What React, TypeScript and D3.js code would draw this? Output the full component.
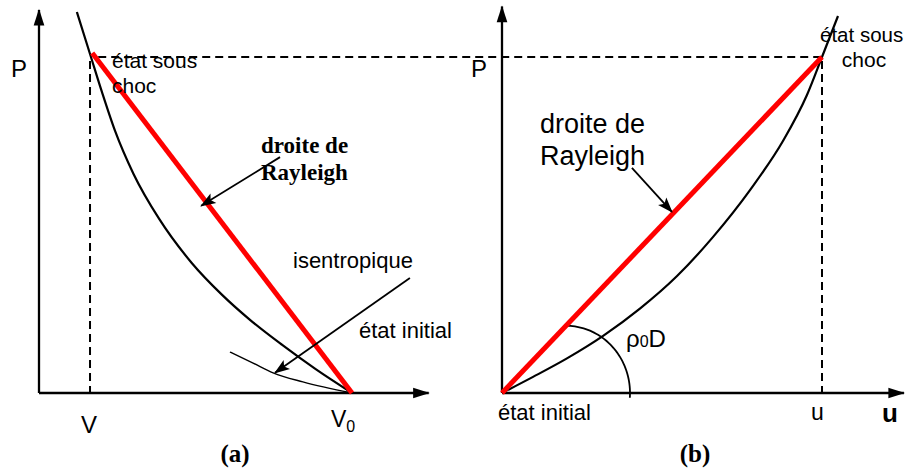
import React from "react";
import * as d3 from "d3";

// (a) plan P–V : V normalisé par V0, P normalisé par la pression sous choc
const hugoniotPV: [number, number][] = [
  [0.121, 1.134], [0.164, 1.006], [0.201, 0.896], [0.243, 0.78], [0.302, 0.652],
  [0.384, 0.518], [0.488, 0.387], [0.585, 0.292], [0.675, 0.217], [0.777, 0.143],
  [0.884, 0.071], [1.0, 0.0],
];
const isentropePV: [number, number][] = [
  [0.61, 0.122], [0.684, 0.089], [0.748, 0.06], [0.843, 0.033], [1.0, 0.0],
];
const rayleighPV: [number, number][] = [[0.17, 1.012], [1.0, 0.0]];
const shockV = 0.163;

// (b) plan P–u : u normalisé par u sous choc
const hugoniotPU: [number, number][] = [
  [0, 0], [0.097, 0.048], [0.203, 0.103], [0.316, 0.17], [0.431, 0.251],
  [0.547, 0.348], [0.659, 0.464], [0.775, 0.604], [0.878, 0.75], [0.953, 0.887],
  [1.0, 1.0], [1.05, 1.122],
];
const rayleighPU: [number, number][] = [[0, 0], [1, 1]];
const angleArc = { cx: 0.2, r: 0.2, from: 90, to: -4 };

const sans = "'Liberation Sans', Arial, sans-serif";
const serif = "'Liberation Serif', 'Times New Roman', serif";

export default function App() {
  const W = 905, H = 471;

  const xA = d3.scaleLinear().domain([0, 1]).range([39, 352]);
  const yA = d3.scaleLinear().domain([0, 1]).range([393, 57]);
  const xB = d3.scaleLinear().domain([0, 1]).range([502, 822]);
  const yB = yA;

  const lineA = d3.line<[number, number]>().x(d => xA(d[0])).y(d => yA(d[1])).curve(d3.curveMonotoneX);
  const lineB = d3.line<[number, number]>().x(d => xB(d[0])).y(d => yB(d[1])).curve(d3.curveMonotoneX);

  const arcPts: [number, number][] = d3.range(angleArc.from, angleArc.to - 0.01, -2).map(a => {
    const t = (a * Math.PI) / 180;
    return [angleArc.cx + angleArc.r * Math.cos(t), angleArc.r * Math.sin(t)];
  });
  const arcPath = d3.line<[number, number]>().x(d => xB(d[0])).y(d => yB(d[1]))(arcPts);

  const seg = (x1: number, y1: number, x2: number, y2: number, props: any) => (
    <line x1={x1} y1={y1} x2={x2} y2={y2} {...props} />
  );

  return (
    <svg width={W} height={H} style={{ position: "absolute", left: 0, top: 0, background: "#fff" }}>
      <defs>
        <marker id="axArrow" markerUnits="userSpaceOnUse" markerWidth="20" markerHeight="20"
          viewBox="-16 -8 18 16" refX="0" refY="0" orient="auto">
          <path d="M1,0 L-14,-4.8 L-14,4.8 Z" fill="#000" />
        </marker>
        <marker id="smArrow" markerUnits="userSpaceOnUse" markerWidth="20" markerHeight="20"
          viewBox="-16 -8 18 16" refX="0" refY="0" orient="auto">
          <path d="M1,0 L-13,-5 L-10,0 L-13,5 Z" fill="#000" />
        </marker>
      </defs>

      {/* lignes pointillées */}
      <g stroke="#000" strokeWidth={2} strokeDasharray="8,5" fill="none">
        {seg(xA(0.17) + 6, yA(1), xB(1), yA(1), {})}
        {seg(xA(shockV), yA(1) + 4, xA(shockV), yA(0), {})}
        {seg(xB(1), yB(1) + 4, xB(1), yB(0), {})}
      </g>

      {/* axes */}
      <g stroke="#000" strokeWidth={2.3}>
        {seg(xA(0), yA(0), xA(0), yA(1.14), { markerEnd: "url(#axArrow)" })}
        {seg(xA(0), yA(0), xA(1.245), yA(0), { markerEnd: "url(#axArrow)" })}
        {seg(xB(0), yB(0), xB(0), yB(1.15), { markerEnd: "url(#axArrow)" })}
        {seg(xB(0), yB(0), xB(1.256), yB(0), { markerEnd: "url(#axArrow)" })}
      </g>

      {/* (a) courbes */}
      <path d={lineA(hugoniotPV) ?? ""} fill="none" stroke="#000" strokeWidth={2.2} />
      <path d={lineA(isentropePV) ?? ""} fill="none" stroke="#000" strokeWidth={1.4} />
      <path d={d3.line<[number, number]>().x(d => xA(d[0])).y(d => yA(d[1]))(rayleighPV) ?? ""}
        fill="none" stroke="#ff0000" strokeWidth={5} />

      {/* (b) courbes */}
      <path d={lineB(hugoniotPU) ?? ""} fill="none" stroke="#000" strokeWidth={2.2} />
      <path d={arcPath ?? ""} fill="none" stroke="#000" strokeWidth={1.8} />
      <path d={d3.line<[number, number]>().x(d => xB(d[0])).y(d => yB(d[1]))(rayleighPU) ?? ""}
        fill="none" stroke="#ff0000" strokeWidth={5} />

      {/* flèches des annotations */}
      <g stroke="#000" strokeWidth={1.8}>
        {seg(xA(0.77), yA(0.702), xA(0.518), yA(0.557), { markerEnd: "url(#smArrow)" })}
        {seg(xA(1.185), yA(0.342), xA(0.754), yA(0.06), { markerEnd: "url(#smArrow)" })}
        {seg(xB(0.406), yB(0.67), xB(0.531), yB(0.539), { markerEnd: "url(#smArrow)" })}
      </g>

      {/* textes (a) */}
      <g fontFamily={sans} fill="#000">
        <text x={11} y={77} fontSize={24}>P</text>
        <text x={112} y={68} fontSize={21}>état sous</text>
        <text x={112} y={93} fontSize={21}>choc</text>
        <text x={293} y={268} fontSize={22}>isentropique</text>
        <text x={359} y={338} fontSize={22}>état initial</text>
        <text x={89} y={433} fontSize={24} textAnchor="middle">V</text>
        <text x={331} y={427} fontSize={23}>V<tspan fontSize={16} dy={5}>0</tspan></text>
      </g>
      <g fontFamily={serif} fontWeight="bold" fill="#000">
        <text x={261} y={153} fontSize={23}>droite de</text>
        <text x={261} y={180} fontSize={23}>Rayleigh</text>
        <text x={235} y={462} fontSize={25} textAnchor="middle">(a)</text>
        <text x={695} y={462} fontSize={25} textAnchor="middle">(b)</text>
      </g>

      {/* textes (b) */}
      <g fontFamily={sans} fill="#000">
        <text x={471} y={77} fontSize={24}>P</text>
        <text x={820} y={42} fontSize={20.5}>état sous</text>
        <text x={864} y={67} fontSize={21} textAnchor="middle">choc</text>
        <text x={540} y={133} fontSize={27}>droite de</text>
        <text x={540} y={165} fontSize={27}>Rayleigh</text>
        <text x={626} y={347} fontSize={24}>ρ<tspan fontSize={16} dy={0}>0</tspan><tspan fontSize={24}>D</tspan></text>
        <text x={498} y={420} fontSize={22}>état initial</text>
        <text x={811} y={420} fontSize={23}>u</text>
        <text x={882} y={422} fontSize={26} fontWeight="bold">u</text>
      </g>
    </svg>
  );
}
